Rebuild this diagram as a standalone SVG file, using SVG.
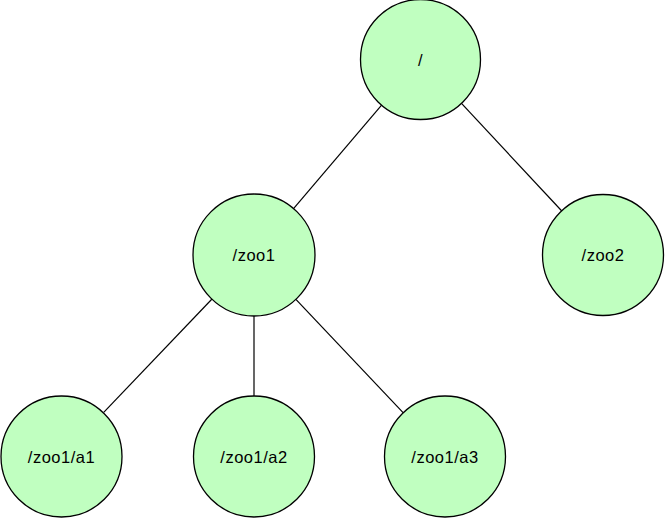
<svg xmlns="http://www.w3.org/2000/svg" width="665" height="518" viewBox="0 0 665 518">
<style>
.node circle{fill:#c0ffc0;stroke:#000;stroke-width:1.3}
.node text{font-family:"Liberation Sans",Arial,sans-serif;font-size:16.5px;fill:#000;text-anchor:middle;letter-spacing:0.5px}
#edges line{stroke:#000;stroke-width:1.2}
</style>
<rect width="665" height="518" fill="#fff"/>
<g id="edges">
<line x1="381.6" y1="105.2" x2="292.9" y2="209.3"/>
<line x1="461.5" y1="103.4" x2="561.8" y2="211"/>
<line x1="212" y1="299" x2="103.7" y2="412.4"/>
<line x1="254" y1="316" x2="254" y2="396"/>
<line x1="295.9" y1="299.3" x2="403.8" y2="413.4"/>
</g>
<g id="n-root" class="node"><circle cx="420.5" cy="59.5" r="60"/><text x="420.5" y="65.5">/</text></g>
<g id="n-zoo1" class="node"><circle cx="254" cy="255" r="61"/><text x="254" y="261">/zoo1</text></g>
<g id="n-zoo2" class="node"><circle cx="603" cy="255" r="60.5"/><text x="603" y="261">/zoo2</text></g>
<g id="n-a1" class="node"><circle cx="61.5" cy="456.5" r="60.5"/><text x="61.5" y="462.5">/zoo1/a1</text></g>
<g id="n-a2" class="node"><circle cx="254" cy="456.5" r="60.5"/><text x="254" y="462.5">/zoo1/a2</text></g>
<g id="n-a3" class="node"><circle cx="445" cy="456.5" r="60.5"/><text x="445" y="462.5">/zoo1/a3</text></g>
</svg>
